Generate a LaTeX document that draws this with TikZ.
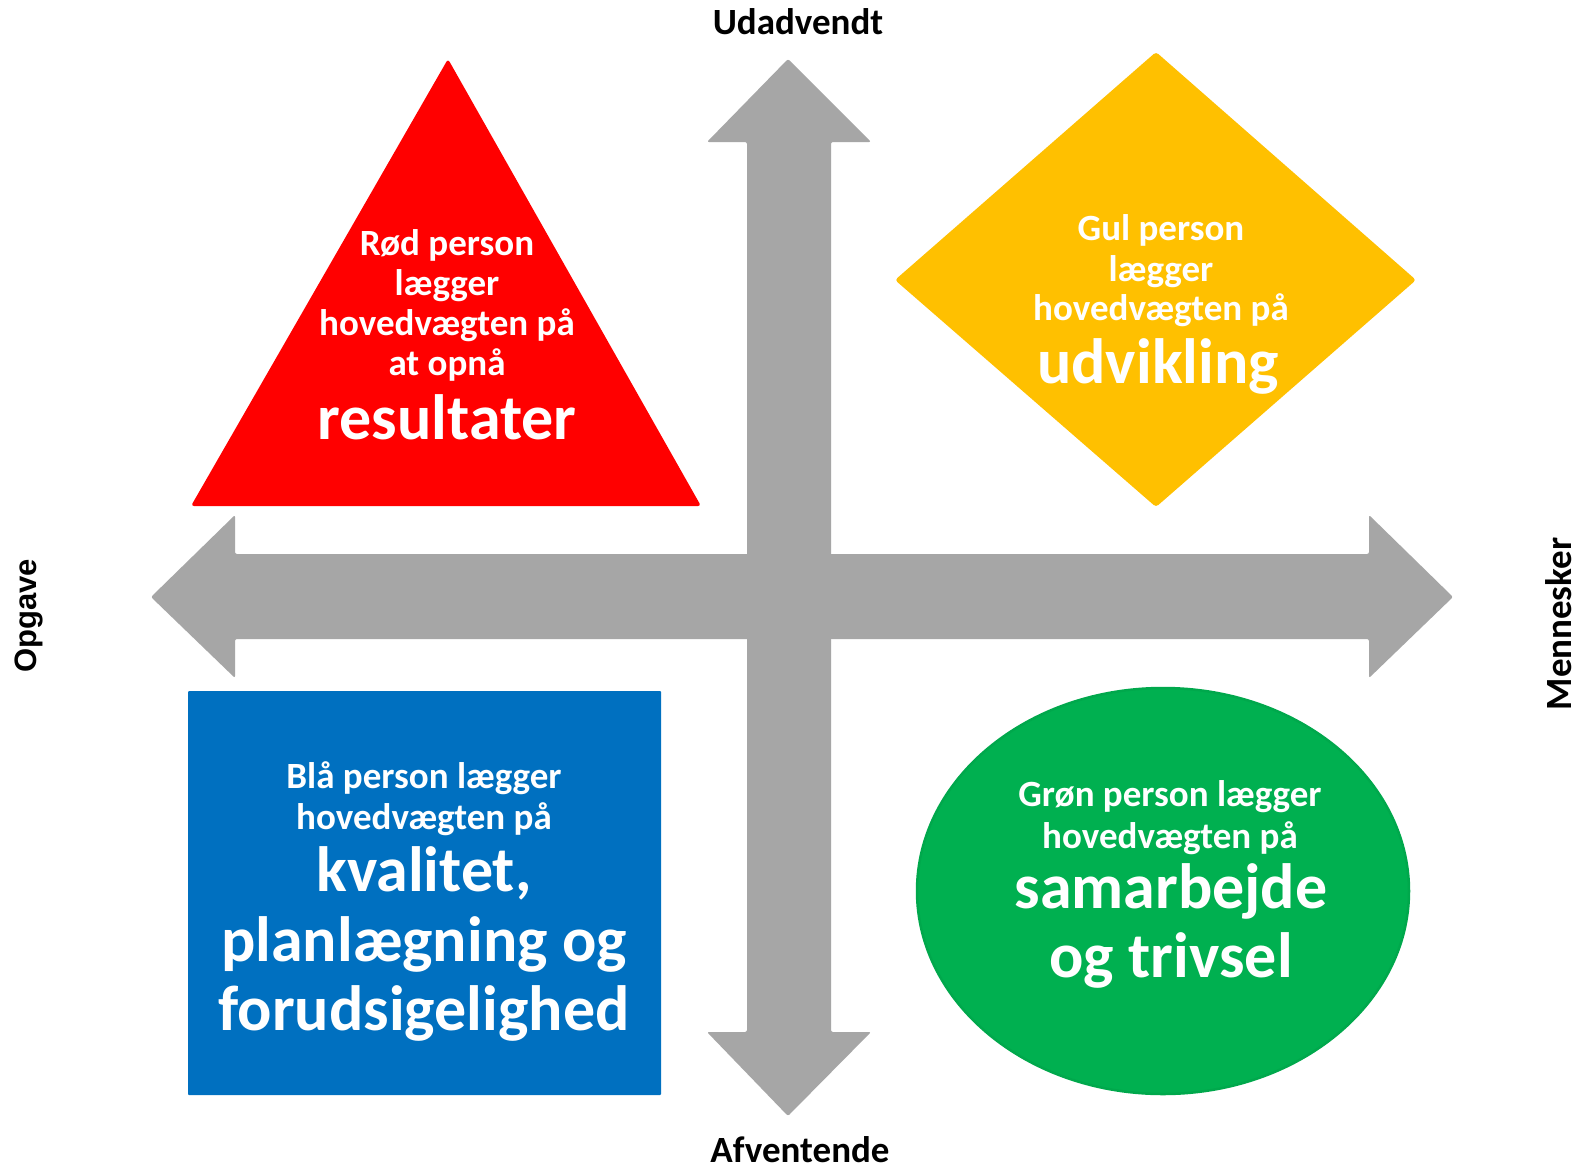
\documentclass[tikz,border=0pt]{standalone}
\usepackage{fontspec}
\setmainfont{Carlito}
\newfontfamily\arialfont{Liberation Sans}
\definecolor{arrowgray}{HTML}{A6A6A6}
\definecolor{redfill}{HTML}{FF0000}
\definecolor{yellowfill}{HTML}{FFC000}
\definecolor{bluefill}{HTML}{0070C0}
\definecolor{greenfill}{HTML}{00B050}
\definecolor{greenedge}{HTML}{00A84C}
\begin{document}
\begin{tikzpicture}[x=1pt,y=-1pt,
  txt/.style={inner sep=0pt, anchor=base, text=white, font=\bfseries\fontsize{37}{40}\selectfont},
  big/.style={inner sep=0pt, anchor=base, text=white, font=\bfseries\fontsize{64}{70}\selectfont},
  axislabel/.style={inner sep=0pt, text=black, font=\bfseries\fontsize{37}{40}\selectfont},
  arrowshape/.style={fill=arrowgray, rounded corners=2pt},
  shapefill/.style={rounded corners=3pt}]
\useasboundingbox (0,0) rectangle (1579,1172);
\fill[white] (0,0) rectangle (1579,1172);
% vertical double arrow
\fill[arrowshape] (788,59) -- (871,142) -- (831,142) -- (831,1032) -- (871,1032)
  -- (788,1116) -- (707,1032) -- (747,1032) -- (747,142) -- (707,142) -- cycle;
% horizontal double arrow
\fill[arrowshape] (151,597) -- (235,515) -- (235,554) -- (1369,554) -- (1369,515)
  -- (1453,597) -- (1369,678) -- (1369,639) -- (235,639) -- (235,678) -- cycle;
% red triangle
\fill[redfill, shapefill] (448,59) -- (701,506) -- (191,506) -- cycle;
% yellow diamond
\fill[yellowfill, shapefill] (1156,52) -- (1416,280) -- (1156,507) -- (895,280) -- cycle;
% blue rectangle
\fill[bluefill, rounded corners=1pt] (188,691) rectangle (661,1095);
% green ellipse
\filldraw[fill=greenfill, draw=greenedge, line width=2.5pt] (1163,891) ellipse [x radius=246, y radius=203];
% axis labels
\node[axislabel, anchor=base] (up) at (798,35) {Udadvendt};
\node[axislabel, anchor=base] (down) at (800,1162) {Afventende};
\node[axislabel, rotate=90, font=\arialfont\bfseries\fontsize{31}{34}\selectfont] (left) at (29,616) {Opgave};
\node[axislabel, rotate=90] (right) at (1559,624) {Mennesker};
% red text
\node[txt] (r1) at (447,255) {Rød person};
\node[txt] (r2) at (447,295) {lægger};
\node[txt] (r3) at (447,335) {hovedvægten på};
\node[txt] (r4) at (447,375) {at opnå};
\node[big] (r5) at (447,439) {resultater};
% yellow text
\node[txt] (y1) at (1161,240) {Gul person};
\node[txt] (y2) at (1161,281) {lægger};
\node[txt] (y3) at (1161,320) {hovedvægten på};
\node[big] (y4) at (1158,383) {udvikling};
% blue text
\node[txt] (b1) at (424,788) {Blå person lægger};
\node[txt] (b2) at (424,829) {hovedvægten på};
\node[big] (b3) at (424,891) {kvalitet,};
\node[big] (b4) at (424,961) {planlægning og};
\node[big] (b5) at (424,1030) {forudsigelighed};
% green text
\node[txt] (g1) at (1170,806) {Grøn person lægger};
\node[txt] (g2) at (1170,848) {hovedvægten på};
\node[big] (g3) at (1171,908) {samarbejde};
\node[big] (g4) at (1171,977) {og trivsel};
\end{tikzpicture}
\end{document}
